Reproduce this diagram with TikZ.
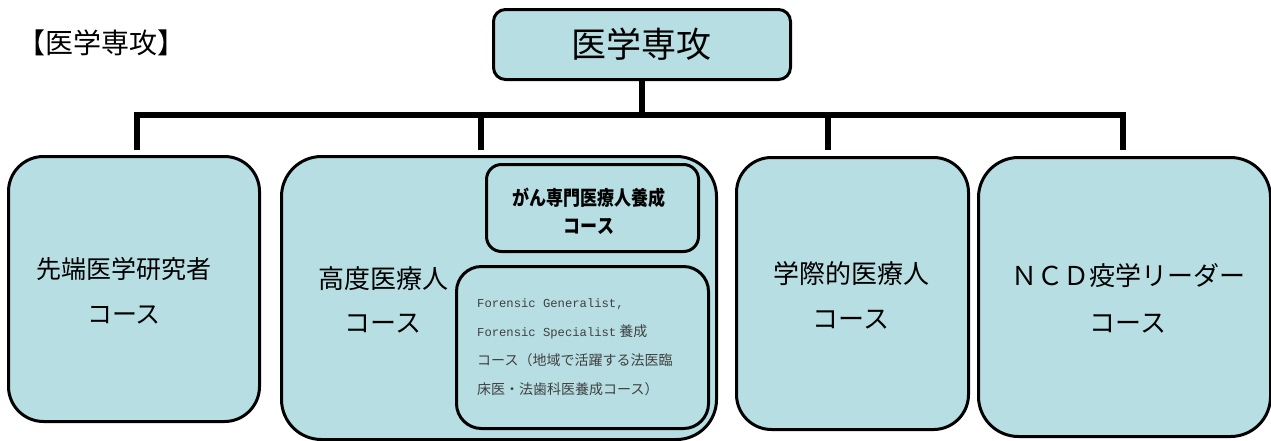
\documentclass[tikz,border=0pt]{standalone}
\usepackage{fontspec}
\setmainfont{Noto Sans CJK JP}
\newfontfamily\monof{Liberation Mono}
\newfontfamily\condf[FakeStretch=0.85]{Noto Sans CJK JP}
\definecolor{boxfill}{RGB}{183,223,227}
\definecolor{smalltext}{RGB}{64,64,64}
\tikzset{
  cbox/.style={draw, line width=3pt, fill=boxfill, rounded corners=#1, anchor=north west, inner sep=0pt},
  conn/.style={draw, line width=6pt, line join=miter},
  lbl/.style={inner sep=0pt, align=center},
}
\begin{document}
\begin{tikzpicture}[x=1pt,y=-1pt]
\useasboundingbox (0,0) rectangle (1271,440);
% title
\node[lbl, font=\fontsize{28}{34}\selectfont] (title) at (101,43) {【医学専攻】};
% top box
\node[cbox=12pt, minimum width=297pt, minimum height=70pt] (top) at (492,8) {};
\node[lbl, font=\fontsize{35}{40}\selectfont] (toptxt) at (641,44) {医学専攻};
% course boxes
\node[cbox=35pt, minimum width=251pt, minimum height=265pt] (b1) at (7,155) {};
\node[cbox=40pt, minimum width=435pt, minimum height=283pt] (b2) at (280,155) {};
\node[cbox=15pt, minimum width=212pt, minimum height=87pt] (b2a) at (485,163) {};
\node[cbox=25pt, minimum width=252pt, minimum height=162pt] (b2b) at (455,265) {};
\node[cbox=35pt, minimum width=232pt, minimum height=272pt] (b3) at (735,156) {};
\node[cbox=40pt, minimum width=292pt, minimum height=279pt] (b4) at (977,156) {};
% texts
\node[lbl, font=\fontsize{25}{45}\selectfont] (t1) at (124,291) {先端医学研究者\\コース};
\node[lbl, font=\fontsize{26}{44}\selectfont] (t2) at (383,300) {高度医療人\\コース};
\node[lbl, font=\condf\bfseries\fontsize{20}{28}\selectfont] (t2a) at (589,211) {がん専門医療人養成\\コース};
\node[lbl, anchor=west, align=left, text=smalltext, font=\fontsize{14}{29}\selectfont] (t2b) at (477,347)
  {{\monof\fontsize{12.2}{29}\selectfont Forensic Generalist,}\\
   {\monof\fontsize{12.2}{29}\selectfont Forensic Specialist} 養成\\
   コース（地域で活躍する法医臨\\
   床医・法歯科医養成コース）};
\node[lbl, font=\fontsize{26}{45}\selectfont] (t3) at (851,295) {学際的医療人\\コース};
\node[lbl, font=\fontsize{26}{47}\selectfont] (t4) at (1128,298) {ＮＣＤ疫学リーダー\\コース};
% connectors
\coordinate (j) at (643,115);
\coordinate (d1) at (137,150);
\coordinate (d2) at (481,150);
\coordinate (d3) at (828,150);
\coordinate (d4) at (1123,150);
\draw[conn] (top.south) -- (top.south |- j);
\draw[conn] (d1) -- (d1 |- j) -- (d4 |- j) -- (d4);
\draw[conn] (d2 |- j) -- (d2);
\draw[conn] (d3 |- j) -- (d3);
\end{tikzpicture}
\end{document}
